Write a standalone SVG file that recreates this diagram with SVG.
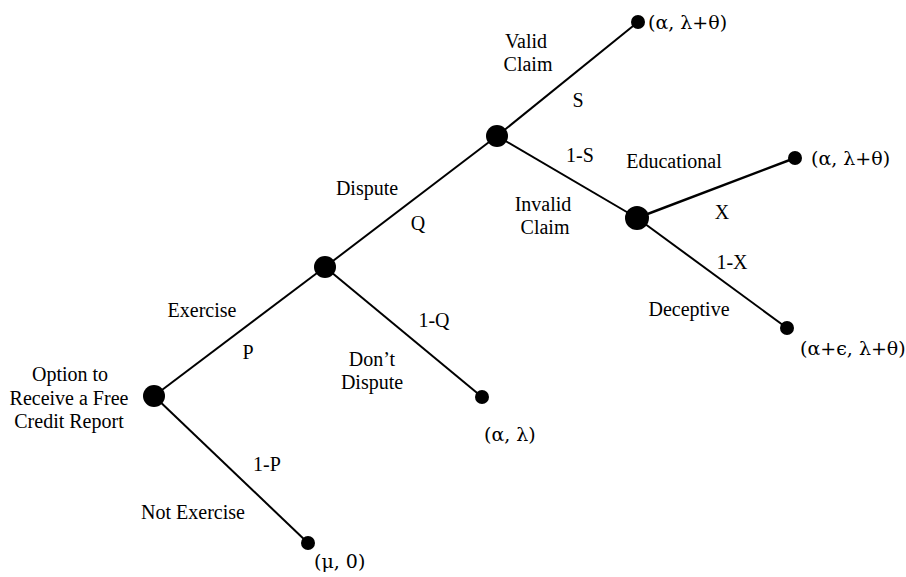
<svg xmlns="http://www.w3.org/2000/svg" width="906" height="577" viewBox="0 0 906 577">
<style>
text{font-family:"Liberation Serif","Times New Roman",serif;font-size:20px;fill:#000}
text.p{font-family:"DejaVu Serif","Liberation Serif",serif;font-size:19px}
.m{text-anchor:middle}
line{stroke:#000;stroke-width:2}
</style>
<rect width="906" height="577" fill="#fff"/>
<g id="connectors">
<line x1="154" y1="396" x2="325" y2="267"/>
<line x1="154" y1="396" x2="308" y2="543"/>
<line x1="325" y1="267" x2="497" y2="136"/>
<line x1="325" y1="267" x2="482" y2="397"/>
<line x1="497" y1="136" x2="638" y2="22"/>
<line x1="497" y1="136" x2="637" y2="218"/>
<line x1="637" y1="218" x2="795" y2="158" style="stroke-width:2.5"/>
<line x1="637" y1="218" x2="787" y2="328"/>
</g>
<g id="root"><circle cx="154" cy="396" r="11"/>
<text class="m" x="70" y="381">Option to</text><text class="m" x="69" y="405">Receive a Free</text><text class="m" x="69" y="428">Credit Report</text></g>
<g id="exercise"><circle cx="325" cy="267" r="11"/></g>
<g id="dispute"><circle cx="497" cy="136" r="11"/></g>
<g id="invalid"><circle cx="637" cy="218" r="12"/></g>
<g id="t-valid"><circle cx="638" cy="22" r="7"/><text class="p" x="648" y="29">(α, λ+θ)</text></g>
<g id="t-educ"><circle cx="795" cy="158" r="7"/><text class="p" x="811" y="165">(α, λ+θ)</text></g>
<g id="t-decep"><circle cx="787" cy="328" r="7"/><text class="p" x="800" y="355">(α+ϵ, λ+θ)</text></g>
<g id="t-dont"><circle cx="482" cy="397" r="7"/><text class="p" x="484" y="441">(α, λ)</text></g>
<g id="t-not"><circle cx="308" cy="543" r="7"/><text class="p" x="314" y="568">(μ, 0)</text></g>
<g id="labels">
<text class="m" x="202" y="317">Exercise</text>
<text class="m" x="248" y="359">P</text>
<text class="m" x="267" y="471">1-P</text>
<text class="m" x="193" y="519">Not Exercise</text>
<text class="m" x="367" y="195">Dispute</text>
<text class="m" x="418" y="230">Q</text>
<text class="m" x="434" y="327">1-Q</text>
<text class="m" x="372" y="366">Don’t</text>
<text class="m" x="372" y="389">Dispute</text>
<text class="m" x="526" y="48">Valid</text>
<text class="m" x="528" y="71">Claim</text>
<text class="m" x="578" y="107">S</text>
<text class="m" x="580" y="162">1-S</text>
<text class="m" x="543" y="211">Invalid</text>
<text class="m" x="545" y="234">Claim</text>
<text class="m" x="674" y="168">Educational</text>
<text class="m" x="722" y="219">X</text>
<text class="m" x="732" y="269">1-X</text>
<text class="m" x="689" y="316">Deceptive</text>
</g>
</svg>
